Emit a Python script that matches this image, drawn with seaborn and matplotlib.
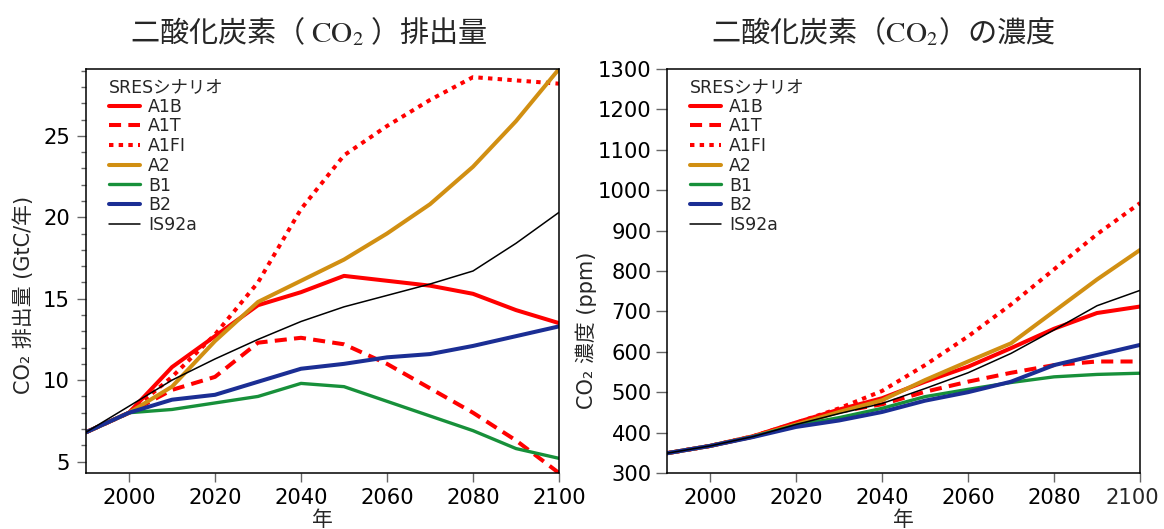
import matplotlib
matplotlib.use("Agg")
import matplotlib.pyplot as plt
from matplotlib.lines import Line2D
from matplotlib.ticker import MultipleLocator, FuncFormatter
import pandas as pd
import seaborn as sns

# ---- data -------------------------------------------------------------
years = [1990, 2000, 2010, 2020, 2030, 2040, 2050, 2060, 2070, 2080, 2090, 2100]
scenarios = ["A1B", "A1T", "A1FI", "A2", "B1", "B2", "IS92a"]

# CO2 emissions (GtC/yr)
emis_A1B = [6.8, 8.0, 10.8, 12.7, 14.6, 15.4, 16.4, 16.1, 15.8, 15.3, 14.3, 13.5]
emis_A1T = [6.8, 8.0, 9.4, 10.2, 12.3, 12.6, 12.2, 11.0, 9.5, 8.0, 6.3, 4.3]
emis_A1FI = [6.8, 8.0, 10.2, 12.8, 16.0, 20.5, 23.8, 25.6, 27.2, 28.6, 28.4, 28.2]
emis_A2 = [6.8, 8.0, 9.6, 12.4, 14.8, 16.1, 17.4, 19.0, 20.8, 23.1, 25.9, 29.1]
emis_B1 = [6.8, 8.0, 8.2, 8.6, 9.0, 9.8, 9.6, 8.7, 7.8, 6.9, 5.8, 5.2]
emis_B2 = [6.8, 8.0, 8.8, 9.1, 9.9, 10.7, 11.0, 11.4, 11.6, 12.1, 12.7, 13.3]
emis_IS92a = [6.8, 8.4, 10.0, 11.3, 12.5, 13.6, 14.5, 15.2, 15.9, 16.7, 18.4, 20.3]

# CO2 concentration (ppm)
conc_A1B = [349, 367, 391, 425, 457, 485, 526, 563, 609, 657, 696, 712]
conc_A1T = [349, 367, 390, 422, 452, 470, 501, 526, 548, 567, 576, 576]
conc_A1FI = [349, 367, 391, 424, 460, 503, 567, 638, 717, 804, 891, 968]
conc_A2 = [349, 367, 390, 420, 451, 480, 530, 576, 621, 700, 779, 852]
conc_B1 = [349, 367, 390, 418, 437, 460, 489, 507, 524, 538, 544, 547]
conc_B2 = [349, 367, 389, 414, 430, 451, 479, 500, 526, 567, 592, 617]
conc_IS92a = [349, 367, 390, 420, 447, 472, 509, 548, 596, 654, 714, 752]

emissions = dict(zip(scenarios, [emis_A1B, emis_A1T, emis_A1FI, emis_A2,
                                 emis_B1, emis_B2, emis_IS92a]))
concentrations = dict(zip(scenarios, [conc_A1B, conc_A1T, conc_A1FI, conc_A2,
                                      conc_B1, conc_B2, conc_IS92a]))

# ---- styles -----------------------------------------------------------
colors = {"A1B": "#FF0000", "A1T": "#FF0000", "A1FI": "#FF0000",
          "A2": "#D18F12", "B1": "#17903A", "B2": "#1B2E94", "IS92a": "#000000"}
dashes = {"A1B": "", "A1T": (3.0, 1.8), "A1FI": (1.1, 1.3),
          "A2": "", "B1": "", "B2": "", "IS92a": ""}
widths = {"A1B": 2.9, "A1T": 2.9, "A1FI": 2.9, "A2": 2.9,
          "B1": 2.4, "B2": 2.9, "IS92a": 1.1}

SANS = ["DejaVu Sans", "Noto Sans CJK JP"]
CJK = ["Noto Sans CJK JP", "DejaVu Sans"]
TICK_SIZE = 15.2
X_TICK_LEN = 6.5
X_TICK_PAD = 4


def to_long(table):
    rows = []
    for name in scenarios:
        for yr, val in zip(years, table[name]):
            rows.append({"year": yr, "value": val, "scenario": name})
    return pd.DataFrame(rows)


sns.set_theme(style="ticks")
plt.rcParams["font.family"] = SANS
plt.rcParams["axes.edgecolor"] = "black"
plt.rcParams["axes.linewidth"] = 1.1
plt.rcParams["xtick.color"] = "#666666"
plt.rcParams["ytick.color"] = "#666666"
plt.rcParams["xtick.labelcolor"] = "black"
plt.rcParams["ytick.labelcolor"] = "black"

fig = plt.figure(figsize=(11.64, 5.29), dpi=100)
ax1 = fig.add_axes([86 / 1164, 56 / 529, 473 / 1164, 404 / 529])
ax2 = fig.add_axes([667 / 1164, 56 / 529, 473 / 1164, 404 / 529])

for ax, table in ((ax1, emissions), (ax2, concentrations)):
    sns.lineplot(data=to_long(table), x="year", y="value",
                 hue="scenario", style="scenario", size="scenario",
                 hue_order=scenarios, style_order=scenarios, size_order=scenarios,
                 palette=colors, dashes=dashes, sizes=widths,
                 estimator=None, sort=False, legend=False, ax=ax)
    ax.set_xlim(1990, 2100)
    ax.xaxis.set_major_locator(MultipleLocator(20))
    ax.tick_params(axis="x", which="major", length=X_TICK_LEN, width=1.0,
                   labelsize=TICK_SIZE, pad=X_TICK_PAD)
    for s in ax.spines.values():
        s.set_visible(True)
        s.set_color("black")
    ax.set_xlabel("年", fontsize=15, family=CJK)
    ax.xaxis.set_label_coords(0.5, -0.088)

    handles = []
    for name in scenarios:
        if dashes[name]:
            h = Line2D([], [], color=colors[name], lw=widths[name],
                       dashes=dashes[name])
        else:
            h = Line2D([], [], color=colors[name], lw=widths[name])
        handles.append(h)
    ax.legend(handles, scenarios, title="SRESシナリオ", loc="upper left",
              bbox_to_anchor=(0.048, 0.978), frameon=False, fontsize=12.5,
              title_fontsize=12.5, handlelength=1.8, handletextpad=0.45,
              labelspacing=0.1, borderpad=0, borderaxespad=0,
              alignment="left")

# emissions panel
ax1.set_ylim(4.3, 29.1)
ax1.yaxis.set_major_locator(MultipleLocator(5))
ax1.yaxis.set_minor_locator(MultipleLocator(1))
ax1.tick_params(axis="y", which="major", length=6.5, width=1.0, labelsize=TICK_SIZE, pad=5)
ax1.tick_params(axis="y", which="minor", length=3.6, width=1.0)
ax1.set_ylabel("CO₂ 排出量 (GtC/年)", fontsize=15)
ax1.yaxis.set_label_coords(-0.11, 0.44)

# concentration panel
ax2.set_ylim(300, 1300)
ax2.yaxis.set_major_locator(MultipleLocator(100))
ax2.tick_params(axis="y", which="major", length=8, width=1.0, labelsize=TICK_SIZE, pad=3)
ax2.set_ylabel("CO₂ 濃度 (ppm)", fontsize=15)
ax2.yaxis.set_label_coords(-0.148, 0.354)

# the final year label sits at the canvas edge: draw it slightly inward
ax2.xaxis.set_major_formatter(
    FuncFormatter(lambda v, p: "" if v >= 2100 else f"{v:.0f}"))
ax2.annotate(f"{years[-1]}", xy=(years[-1], 0), xycoords=("data", "axes fraction"),
             xytext=(-5.5, -(X_TICK_LEN + X_TICK_PAD)), textcoords="offset points",
             ha="center", va="top", fontsize=TICK_SIZE, annotation_clip=False)
fig.canvas.draw()
ax2.xaxis.get_major_ticks()[0].tick1line.set_visible(False)

# panel titles
fig.text(309 / 1164, 1 - 33 / 529, r"二酸化炭素（ $\mathrm{CO_2}$ ）排出量",
         ha="center", va="center", fontsize=21, math_fontfamily="stix",
         family=CJK)
fig.text(883 / 1164, 1 - 33 / 529, r"二酸化炭素（$\mathrm{CO_2}$）の濃度",
         ha="center", va="center", fontsize=21, math_fontfamily="stix",
         family=CJK)

fig.savefig("out.png", dpi=100)
